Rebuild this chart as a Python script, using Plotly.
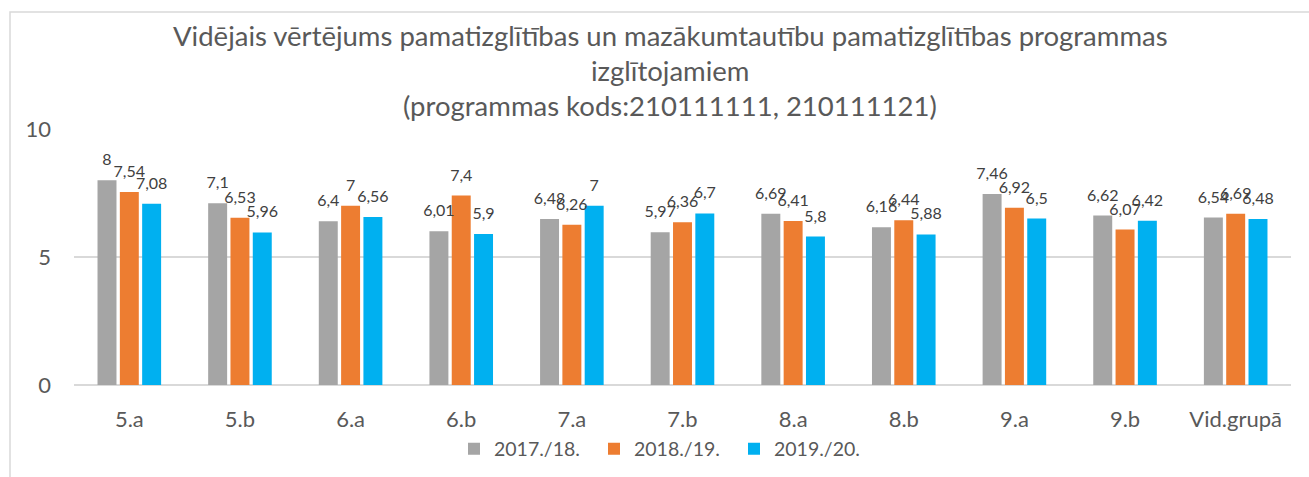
import plotly.graph_objects as go

categories = ["5.a", "5.b", "6.a", "6.b", "7.a", "7.b", "8.a", "8.b", "9.a", "9.b", "Vid.grupā"]
s2017 = [8, 7.1, 6.4, 6.01, 6.48, 5.97, 6.69, 6.16, 7.46, 6.62, 6.54]
s2018 = [7.54, 6.53, 7, 7.4, 6.26, 6.36, 6.41, 6.44, 6.92, 6.07, 6.69]
s2019 = [7.08, 5.96, 6.56, 5.9, 7, 6.7, 5.8, 5.88, 6.5, 6.42, 6.48]
series_names = ["2017./18.", "2018./19.", "2019./20."]
colors = ["#A5A5A5", "#ED7D31", "#00B0F0"]
title_lines = [
    "Vidējais vērtējums pamatizglītības un mazākumtautību pamatizglītības programmas",
    "izglītojamiem",
    "(programmas kods:210111111, 210111121)",
]
y_ticks = [0, 5, 10]

W, H = 1309, 477
L, R, T, B = 74, 18, 129, 92
pw, ph = W - L - R, H - T - B

def px_x(x):
    return (x - L) / pw

def px_y(y):
    return (H - B - y) / ph

FONT = "Lato"
GAP = 0.395

fig = go.Figure()
for i, (name, vals, c) in enumerate(zip(series_names, [s2017, s2018, s2019], colors)):
    fig.add_trace(go.Bar(
        x=categories, y=vals, name=name, offsetgroup=str(i),
        marker=dict(color=c, line=dict(width=0)),
        hoverinfo="skip",
    ))
for i, vals in enumerate([s2017, s2018, s2019]):
    fig.add_trace(go.Scatter(
        x=categories, y=vals, mode="markers+text", offsetgroup=str(i),
        marker=dict(size=16, color="rgba(0,0,0,0)"),
        text=[str(v).replace(".", ",") for v in vals],
        textposition="top center",
        textfont=dict(family=FONT, size=16, color="#404040"),
        showlegend=False, hoverinfo="skip", cliponaxis=False,
    ))

ann = []
for line, yc in zip(title_lines, [35, 70, 105]):
    ann.append(dict(text=line, xref="paper", yref="paper", x=px_x(670), y=px_y(yc),
                    xanchor="center", yanchor="middle", showarrow=False,
                    font=dict(family=FONT, size=27.5, color="#595959")))

fig.update_layout(
    width=W, height=H,
    margin=dict(l=L, r=R, t=T, b=B, autoexpand=False),
    paper_bgcolor="white", plot_bgcolor="white",
    barmode="group", bargap=GAP, bargroupgap=0.15,
    scattermode="group", scattergap=GAP,
    annotations=ann,
    showlegend=True,
    legend=dict(orientation="h", x=px_x(664), y=px_y(449), xanchor="center", yanchor="middle",
                font=dict(family=FONT, size=19.5, color="#595959"), itemwidth=30,
                entrywidth=95, entrywidthmode="pixels",
                bgcolor="rgba(0,0,0,0)"),
    xaxis=dict(showgrid=False, showline=False, ticks="", tickfont=dict(family=FONT, size=22, color="#595959"),
               ticklabelstandoff=19),
    yaxis=dict(range=[0, 10], tickvals=y_ticks, showgrid=True, gridcolor="#D9D9D9", gridwidth=1.5,
               zeroline=True, zerolinecolor="#D9D9D9", zerolinewidth=1.5, showline=False,
               tickfont=dict(family=FONT, size=22, color="#595959"), ticklabelstandoff=22),
    shapes=[dict(type="rect", xref="paper", yref="paper",
                 x0=px_x(10), x1=px_x(1330), y0=px_y(500), y1=px_y(12),
                 line=dict(color="#D9D9D9", width=1.5), fillcolor="rgba(0,0,0,0)", layer="below")],
    font=dict(family=FONT),
)

fig.write_html("out.html", config={"displayModeBar": False},
               post_script="document.body.style.margin='0px';")
